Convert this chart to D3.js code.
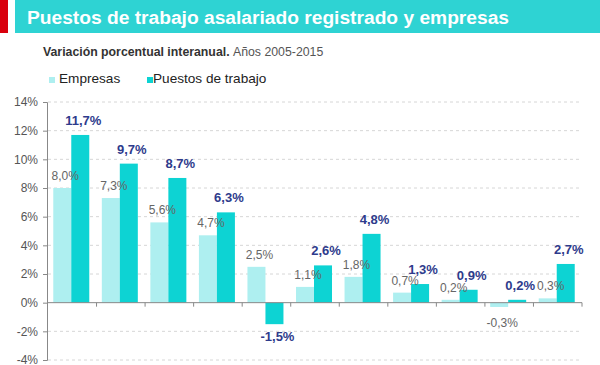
<!DOCTYPE html>
<html>
<head>
<meta charset="utf-8">
<script src="https://cdn.jsdelivr.net/npm/d3@7"></script>
<style>
  body { margin: 0; background: #fff; }
  svg { font-family: "Liberation Sans", Arial, sans-serif; display: block; }
</style>
</head>
<body>
<div id="chart"></div>
<script>
// data
const years = ["2005", "2006", "2007", "2008", "2009", "2010", "2011", "2012", "2013", "2014", "2015"];
const empresas = [8.0, 7.3, 5.6, 4.7, 2.5, 1.1, 1.8, 0.7, 0.2, -0.3, 0.3];
const puestos = [11.7, 9.7, 8.7, 6.3, -1.5, 2.6, 4.8, 1.3, 0.9, 0.2, 2.7];
const yTicks = [-4, -2, 0, 2, 4, 6, 8, 10, 12, 14];
const seriesNames = ["Empresas", "Puestos de trabajo"];

const width = 600, height = 365;
const lightCol = "#aeeff0", darkCol = "#0dd3d3";

const svg = d3.select("#chart").append("svg")
  .attr("width", width)
  .attr("height", height);

// header band
svg.append("rect").attr("x", 0).attr("y", 0).attr("width", 8).attr("height", 33).attr("fill", "#d9000d");
svg.append("rect").attr("x", 15).attr("y", 0).attr("width", 585).attr("height", 33).attr("fill", "#2ed3d3");
svg.append("text")
  .attr("x", 27).attr("y", 24)
  .attr("fill", "#fff")
  .style("font-size", "19.2px")
  .style("font-weight", "bold")
  .text("Puestos de trabajo asalariado registrado y empresas");

let sub = svg.append("text").attr("x", 43).attr("y", 56).style("font-size", "12.3px");
sub.append("tspan").attr("fill", "#333").style("font-weight", "bold").text("Variación porcentual interanual. ");
sub.append("tspan").attr("fill", "#555").text("Años 2005-2015");

// legend
let legend = svg.append("g").attr("transform", "translate(49, 83)");
[lightCol, darkCol].forEach(function(c, i) {
  let g = legend.append("g").attr("transform", `translate(${i * 98}, 0)`);
  g.append("rect").attr("x", 0).attr("y", -6).attr("width", 6).attr("height", 6).attr("fill", c);
  g.append("text").attr("x", i === 0 ? 10 : 6).attr("y", 0).attr("fill", "#222").style("font-size", "13.6px").text(seriesNames[i]);
});

// scales
const x0 = 48, x1 = 582;
let x = d3.scaleBand().domain(years).range([x0, x1]).paddingInner(0).paddingOuter(0);
let y = d3.scaleLinear().domain([-4, 14]).range([360, 102]);
const barW = 18;

// grid
svg.append("g").selectAll("line")
  .data(yTicks.filter(function(d) { return d !== 0; }))
  .enter().append("line")
  .attr("x1", x0).attr("x2", x1)
  .attr("y1", function(d) { return y(d); })
  .attr("y2", function(d) { return y(d); })
  .attr("stroke", "#d6d6d6")
  .attr("stroke-dasharray", "3,3");

// y axis
let yAxis = svg.append("g")
  .attr("transform", `translate(${x0 - 1},0)`)
  .call(d3.axisLeft(y).tickValues(yTicks).tickSize(4).tickFormat(function(d) { return d + "%"; }));
yAxis.select(".domain").attr("stroke", "#888");
yAxis.selectAll(".tick line").attr("stroke", "#888");
yAxis.selectAll(".tick text").attr("fill", "#555").style("font-size", "12px").attr("x", -9);

// bars
let groups = svg.append("g").selectAll("g")
  .data(years)
  .enter().append("g");

groups.append("rect")
  .attr("x", function(d) { return x(d) + x.bandwidth() / 2 - barW - 1; })
  .attr("y", function(d, i) { return y(Math.max(0, empresas[i])); })
  .attr("width", barW)
  .attr("height", function(d, i) { return Math.abs(y(empresas[i]) - y(0)); })
  .attr("fill", lightCol);

groups.append("rect")
  .attr("x", function(d) { return x(d) + x.bandwidth() / 2 - 1; })
  .attr("y", function(d, i) { return y(Math.max(0, puestos[i])); })
  .attr("width", barW)
  .attr("height", function(d, i) { return Math.abs(y(puestos[i]) - y(0)); })
  .attr("fill", darkCol);

// zero axis + category ticks
svg.append("line")
  .attr("x1", x0).attr("x2", x1)
  .attr("y1", y(0)).attr("y2", y(0))
  .attr("stroke", "#888");
svg.append("g").selectAll("line")
  .data(years.slice(1).concat(["end"]))
  .enter().append("line")
  .attr("x1", function(d) { return d === "end" ? x1 : x(d); })
  .attr("x2", function(d) { return d === "end" ? x1 : x(d); })
  .attr("y1", y(0)).attr("y2", y(0) + 4)
  .attr("stroke", "#888");

function fmt(v) { return v.toFixed(1).replace(".", ",") + "%"; }

// labels
groups.append("text")
  .attr("x", function(d) { return x(d) + x.bandwidth() / 2 - barW / 2 + 2; })
  .attr("y", function(d, i) { return empresas[i] >= 0 ? y(empresas[i]) - 8 : y(empresas[i]) + 20; })
  .attr("text-anchor", "middle")
  .attr("fill", "#666")
  .style("font-size", "12px")
  .text(function(d, i) { return fmt(empresas[i]); });

groups.append("text")
  .attr("x", function(d) { return x(d) + x.bandwidth() / 2 + barW / 2 + 2; })
  .attr("y", function(d, i) { return puestos[i] >= 0 ? y(puestos[i]) - 10 : y(puestos[i]) + 17; })
  .attr("text-anchor", "middle")
  .attr("fill", "#2e3b8c")
  .style("font-size", "13px")
  .style("font-weight", "bold")
  .text(function(d, i) { return fmt(puestos[i]); });
</script>
</body>
</html>
